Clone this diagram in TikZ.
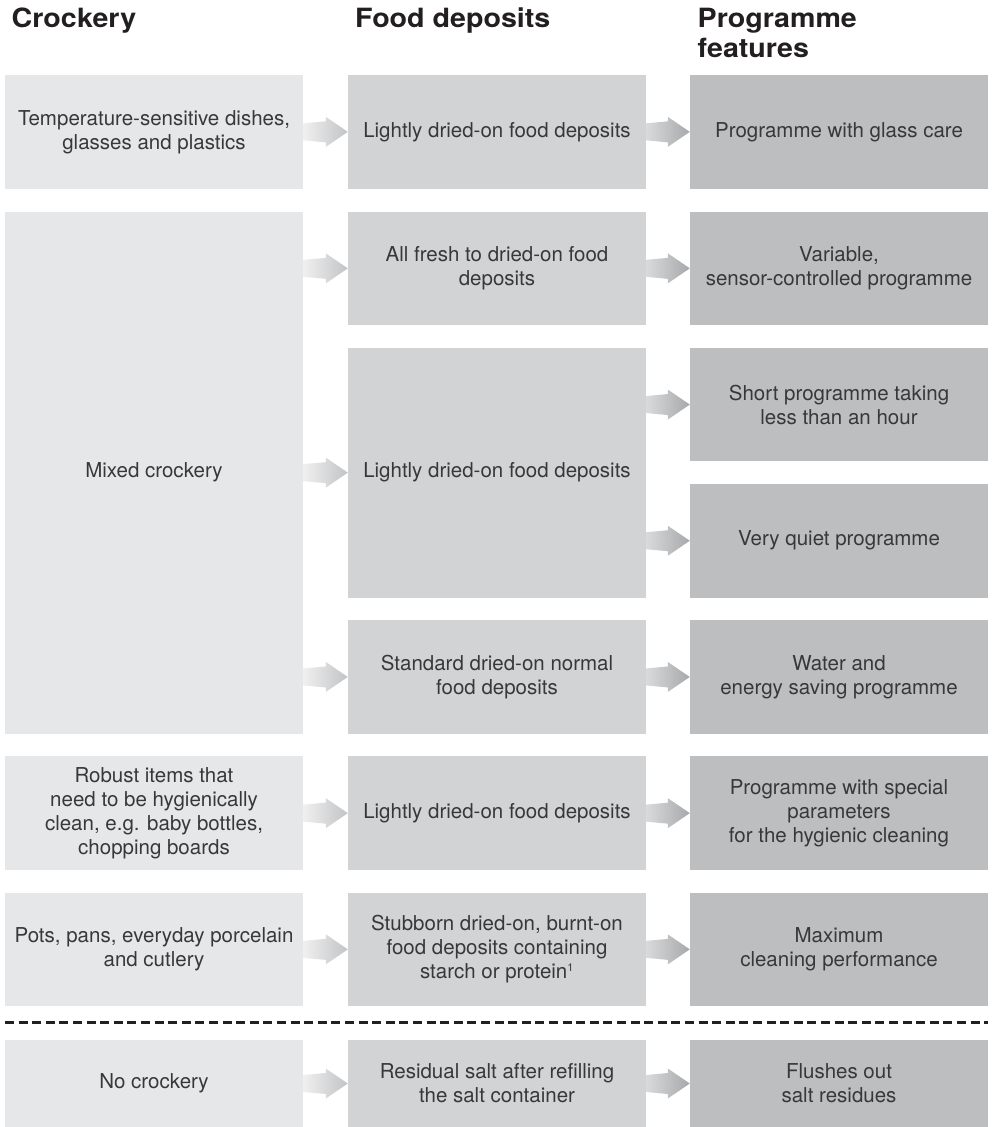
\documentclass[tikz,border=0pt]{standalone}
\usepackage{fontspec}
\setmainfont{TeX Gyre Heros}
\newfontfamily\hdrfont[FakeStretch=1.08]{TeX Gyre Heros}
\usetikzlibrary{calc}
\definecolor{cA}{HTML}{E6E7E8}
\definecolor{cB}{HTML}{D1D3D4}
\definecolor{cC}{HTML}{BCBEC0}
\definecolor{txt}{HTML}{383838}
\definecolor{hdrc}{HTML}{231F20}
\definecolor{aAl}{HTML}{F0F0F1}
\definecolor{aAr}{HTML}{C2C3C5}
\definecolor{aBl}{HTML}{D9DADB}
\definecolor{aBr}{HTML}{A6A8AB}
\newcommand\garrow[4]{%
  \path[left color=#3, right color=#4] let \p1=(#1.east), \p2=(#2.west) in
    (\x1,\y2+8.5bp) -- (\x2-22bp,\y2+10.5bp) -- (\x2-22bp,\y2+15bp) -- (\x2,\y2)
    -- (\x2-22bp,\y2-15bp) -- (\x2-22bp,\y2-10.5bp) -- (\x1,\y2-8.5bp) -- cycle;}
\tikzset{
  box/.style={rectangle, inner sep=0pt, minimum width=298bp, minimum height=113.7bp,
    align=center, text=txt, font=\fontsize{20.5bp}{24bp}\selectfont},
  boxA/.style={box, fill=cA},
  boxB/.style={box, fill=cB},
  boxC/.style={box, fill=cC},
  hdr/.style={inner sep=0pt, anchor=base west, text=hdrc,
    font=\hdrfont\fontsize{26.5bp}{30bp}\selectfont\bfseries},
}
\begin{document}
\begin{tikzpicture}[x=1bp,y=-1bp]
\useasboundingbox (0,0) rectangle (992,1127);
\fill[white] (0,0) rectangle (992,1127);
% headers
\node[hdr] (h1) at (11.5,27) {Crockery};
\node[hdr] (h2) at (355,27) {Food deposits};
\node[hdr] (h3) at (697.5,27) {\begin{tabular}[t]{@{}l@{}}Programme\\features\end{tabular}};
% row 1
\node[boxA] (a1) at (154,131.85) {Temperature-sensitive dishes,\\glasses and plastics};
\node[boxB] (b1) at (497,131.85) {Lightly dried-on food deposits};
\node[boxC] (c1) at (839,131.85) {Programme with glass care};
% row 2 (mixed crockery)
\node[boxA, minimum height=522.3bp] (a2) at (154,472.65) {Mixed crockery};
\node[boxB] (b2a) at (497,268.35) {All fresh to dried-on food\\deposits};
\node[boxB, minimum height=249.9bp] (b2b) at (497,472.65) {Lightly dried-on food deposits};
\node[boxB] (b2c) at (497,676.95) {Standard dried-on normal\\food deposits};
\node[boxC] (c2a) at (839,268.35) {Variable,\\sensor-controlled programme};
\node[boxC] (c2b) at (839,404.55) {Short programme taking\\less than an hour};
\node[boxC] (c2c) at (839,540.75) {Very quiet programme};
\node[boxC] (c2d) at (839,676.95) {Water and\\energy saving programme};
% row 3
\node[boxA] (a3) at (154,813.15) {Robust items that\\need to be hygienically\\clean, e.g. baby bottles,\\chopping boards};
\node[boxB] (b3) at (497,813.15) {Lightly dried-on food deposits};
\node[boxC] (c3) at (839,813.15) {Programme with special\\parameters\\for the hygienic cleaning};
% row 4
\node[boxA] (a4) at (154,949.35) {Pots, pans, everyday porcelain\\and cutlery};
\node[boxB] (b4) at (497,949.35) {Stubborn dried-on, burnt-on\\food deposits containing\\starch or protein\textsuperscript{\fontsize{11bp}{12bp}\selectfont 1}};
\node[boxC] (c4) at (839,949.35) {Maximum\\cleaning performance};
% separator
\coordinate (dl) at (5,1022.5);
\coordinate (dr) at (988,1022.5);
\draw[hdrc, line width=2.5bp, dash pattern=on 9bp off 4.6bp] (dl) -- (dr);
% row 5
\node[boxA, minimum height=87bp] (a5) at (154,1083.5) {No crockery};
\node[boxB, minimum height=87bp] (b5) at (497,1083.5) {Residual salt after refilling\\the salt container};
\node[boxC, minimum height=87bp] (c5) at (839,1083.5) {Flushes out\\salt residues};
% arrows
\garrow{a1}{b1}{aAl}{aAr}
\garrow{b1}{c1}{aBl}{aBr}
\garrow{a2}{b2a}{aAl}{aAr}
\garrow{a2}{b2b}{aAl}{aAr}
\garrow{a2}{b2c}{aAl}{aAr}
\garrow{b2a}{c2a}{aBl}{aBr}
\garrow{b2b}{c2b}{aBl}{aBr}
\garrow{b2b}{c2c}{aBl}{aBr}
\garrow{b2c}{c2d}{aBl}{aBr}
\garrow{a3}{b3}{aAl}{aAr}
\garrow{b3}{c3}{aBl}{aBr}
\garrow{a4}{b4}{aAl}{aAr}
\garrow{b4}{c4}{aBl}{aBr}
\garrow{a5}{b5}{aAl}{aAr}
\garrow{b5}{c5}{aBl}{aBr}
\end{tikzpicture}
\end{document}
